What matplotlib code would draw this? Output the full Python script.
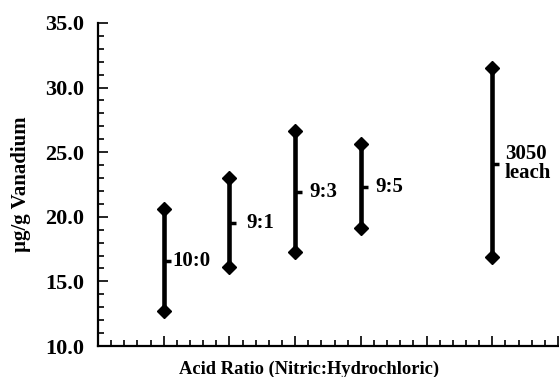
import matplotlib
matplotlib.use("Agg")
import matplotlib.pyplot as plt
from matplotlib.ticker import MultipleLocator

labels = ["10:0", "9:1", "9:3", "9:5", "3050\nleach"]
positions = [1, 2, 3, 4, 6]
lows = [12.7, 16.1, 17.3, 19.1, 16.9]
highs = [20.6, 23.0, 26.6, 25.6, 31.5]
mids = [16.6, 19.5, 21.9, 22.3, 24.1]
label_offsets = [6, 12.5, 10, 10.5, 9]

plt.rcParams['font.family'] = ['Liberation Serif', 'DejaVu Serif']
plt.rcParams['font.weight'] = 'bold'

fig = plt.figure(figsize=(5.59, 3.77), dpi=100)
ax = fig.add_axes([0.1753, 0.0822, 0.823, 0.857])

for x, lo, hi, mid, lab, off in zip(positions, lows, highs, mids, labels, label_offsets):
    ax.plot([x, x], [lo, hi], color='black', lw=3.3, solid_capstyle='butt', zorder=2)
    ax.plot([x, x], [lo, hi], linestyle='none', marker='D', markersize=7,
            color='black', zorder=3)
    ax.plot([x], [mid], linestyle='none', marker=1, markersize=5,
            markeredgewidth=2.5, color='black', zorder=3)
    ax.annotate(lab, (x, mid), xytext=(off, 0), textcoords='offset points',
                ha='left', va='center', fontsize=15, fontweight='bold',
                linespacing=0.95)

ax.set_xlim(0, 7)
ax.set_ylim(10, 35)
ax.yaxis.set_major_locator(MultipleLocator(5))
ax.yaxis.set_minor_locator(MultipleLocator(1))
ax.xaxis.set_major_locator(MultipleLocator(1))
ax.xaxis.set_minor_locator(MultipleLocator(0.2))
ax.set_yticks([10, 15, 20, 25, 30, 35])
ax.set_yticklabels([f"{v:.1f}" for v in [10, 15, 20, 25, 30, 35]])
ax.set_xticklabels([])
ax.tick_params(axis='both', which='major', direction='in', length=7.5, width=1.2,
               labelsize=16, pad=10)
ax.tick_params(axis='both', which='minor', direction='in', length=4, width=1.2)
ax.tick_params(axis='x', which='major', labelbottom=False)

for s in ['top', 'right']:
    ax.spines[s].set_visible(False)
for s in ['left', 'bottom']:
    ax.spines[s].set_linewidth(1.6)

ax.set_ylabel("µg/g Vanadium", fontsize=15, fontweight='bold', labelpad=10)
ax.set_xlabel("Acid Ratio (Nitric:Hydrochloric)", fontsize=13.3, fontweight='bold')
ax.xaxis.set_label_coords(0.459, -0.045)

fig.savefig("out.png", dpi=100)
